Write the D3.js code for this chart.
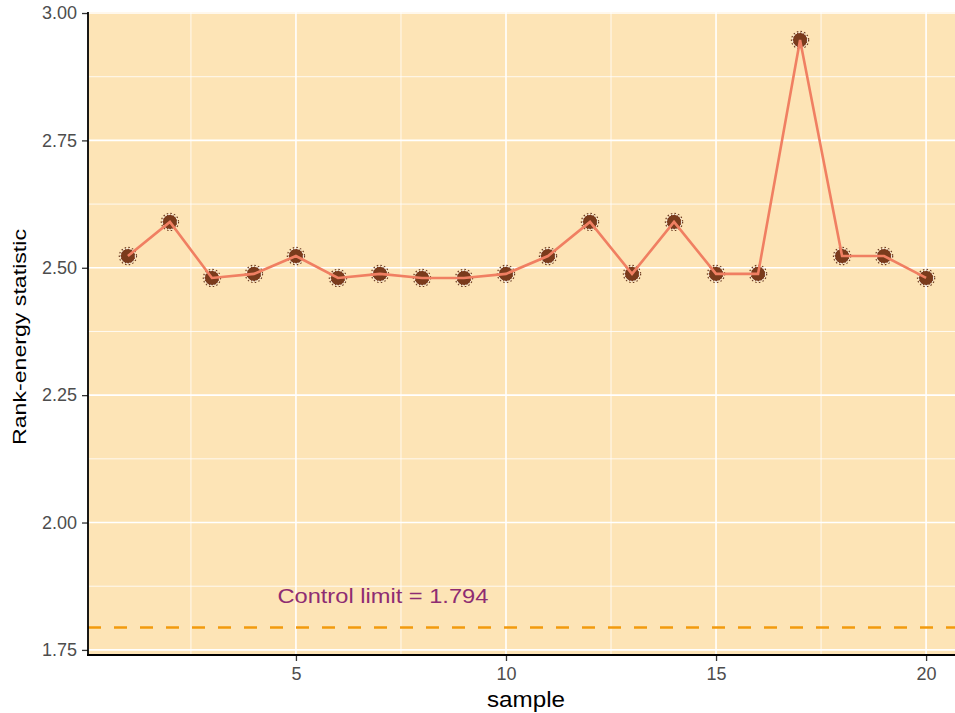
<!DOCTYPE html>
<html>
<head>
<meta charset="utf-8">
<script src="https://cdn.jsdelivr.net/npm/d3@7"></script>
<style>
	body { margin: 0; background: white; }
	svg { display: block; font-family: "Liberation Sans", Arial, sans-serif; }
</style>
</head>
<body>
<div id="chart"></div>
<script>
// values
var samples = d3.range(1, 21);
var statistic = [2.523, 2.590, 2.480, 2.488, 2.523, 2.480, 2.488, 2.480, 2.480, 2.488,
	2.523, 2.590, 2.488, 2.590, 2.488, 2.488, 2.947, 2.523, 2.523, 2.480];
var controlLimit = 1.794;
var yTicks = [1.75, 2.00, 2.25, 2.50, 2.75, 3.00];
var yMinor = [1.875, 2.125, 2.375, 2.625, 2.875];
var xTicks = [5, 10, 15, 20];
var xMinor = [2.5, 7.5, 12.5, 17.5];

(function() {

	var width = 955, height = 713;
	var panelLeft = 88, panelTop = 12, panelBottom = 655;

	var svg = d3.select('#chart').append('svg')
		.attr('width', width)
		.attr('height', height);

	var x = d3.scaleLinear().domain([0.05, 20.95]).range([panelLeft, 966]);
	var y = d3.scaleLinear().domain([1.74, 3.002]).range([panelBottom, panelTop]);

	// panel
	svg.append('rect')
		.attr('x', panelLeft)
		.attr('y', panelTop)
		.attr('width', width - panelLeft)
		.attr('height', panelBottom - panelTop)
		.attr('fill', '#FDE4B6');

	var grid = svg.append('g');

	grid.selectAll('.ymin').data(yMinor).enter().append('line')
		.attr('x1', panelLeft).attr('x2', width)
		.attr('y1', function(d) {return y(d)}).attr('y2', function(d) {return y(d)})
		.attr('stroke', 'white').attr('stroke-width', 0.8)

	grid.selectAll('.xmin').data(xMinor).enter().append('line')
		.attr('y1', panelTop).attr('y2', panelBottom)
		.attr('x1', function(d) {return x(d)}).attr('x2', function(d) {return x(d)})
		.attr('stroke', 'white').attr('stroke-width', 0.8)

	grid.selectAll('.ymaj').data(yTicks).enter().append('line')
		.attr('x1', panelLeft).attr('x2', width)
		.attr('y1', function(d) {return y(d)}).attr('y2', function(d) {return y(d)})
		.attr('stroke', 'white').attr('stroke-width', 1.6)

	grid.selectAll('.xmaj').data(xTicks).enter().append('line')
		.attr('y1', panelTop).attr('y2', panelBottom)
		.attr('x1', function(d) {return x(d)}).attr('x2', function(d) {return x(d)})
		.attr('stroke', 'white').attr('stroke-width', 1.6)

	// control limit
	svg.append('line')
		.attr('x1', panelLeft).attr('x2', width)
		.attr('y1', y(controlLimit)).attr('y2', y(controlLimit))
		.attr('stroke', '#F29A0E')
		.attr('stroke-width', 2.5)
		.attr('stroke-dasharray', '13,13')

	svg.append('text')
		.attr('x', x(7.07))
		.attr('y', 603)
		.attr('text-anchor', 'middle')
		.attr('font-size', '21px')
		.attr('textLength', 211)
		.attr('lengthAdjust', 'spacingAndGlyphs')
		.attr('fill', '#8E2C72')
		.text('Control limit = ' + controlLimit)

	// points
	var pts = samples.map(function(s, i) {return [s, statistic[i]]});

	svg.selectAll('.ptring').data(pts).enter().append('circle')
		.attr('cx', function(d) {return x(d[0])})
		.attr('cy', function(d) {return y(d[1])})
		.attr('r', 8.6)
		.attr('fill', 'none')
		.attr('stroke', '#6B3A22')
		.attr('stroke-width', 1.2)
		.attr('stroke-dasharray', '1.5,2.2')

	svg.selectAll('.pt').data(pts).enter().append('circle')
		.attr('cx', function(d) {return x(d[0])})
		.attr('cy', function(d) {return y(d[1])})
		.attr('r', 7.4)
		.attr('fill', '#7A3B1C')
		.attr('stroke', 'white')
		.attr('stroke-width', 1)
		.attr('stroke-dasharray', '1.5,1.5')

	// line over points
	svg.append('path')
		.datum(pts)
		.attr('fill', 'none')
		.attr('stroke', '#F07F62')
		.attr('stroke-width', 2.6)
		.attr('d', d3.line().x(function(d) {return x(d[0])}).y(function(d) {return y(d[1])}))

	// axes
	var yAxis = svg.append('g')
		.attr('transform', 'translate(' + panelLeft + ',0)')
		.call(d3.axisLeft(y).tickValues(yTicks).tickFormat(d3.format('.2f')).tickSize(6).tickPadding(5))
	yAxis.select('.domain').remove();

	var xAxis = svg.append('g')
		.attr('transform', 'translate(0,' + panelBottom + ')')
		.call(d3.axisBottom(x).tickValues(xTicks).tickSize(6).tickPadding(6))
	xAxis.select('.domain').remove();

	svg.selectAll('.tick line').attr('stroke', '#333').attr('stroke-width', 1.3)
	svg.selectAll('.tick text').attr('fill', '#4D4D4D').style('font-size', '18px')
		.style('font-family', '"Liberation Sans", Arial, sans-serif')

	svg.append('line')
		.attr('x1', panelLeft).attr('x2', panelLeft)
		.attr('y1', panelTop).attr('y2', panelBottom + 1)
		.attr('stroke', 'black').attr('stroke-width', 1.8)

	svg.append('line')
		.attr('x1', panelLeft - 1).attr('x2', width)
		.attr('y1', panelBottom).attr('y2', panelBottom)
		.attr('stroke', 'black').attr('stroke-width', 1.8)

	// titles
	svg.append('text')
		.attr('x', 526)
		.attr('y', 707)
		.attr('text-anchor', 'middle')
		.attr('font-size', '22px')
		.attr('textLength', 78)
		.attr('lengthAdjust', 'spacingAndGlyphs')
		.attr('fill', 'black')
		.text('sample')

	svg.append('text')
		.attr('transform', 'translate(26,337) rotate(-90)')
		.attr('text-anchor', 'middle')
		.attr('font-size', '19px')
		.attr('textLength', 216)
		.attr('lengthAdjust', 'spacingAndGlyphs')
		.attr('fill', 'black')
		.text('Rank-energy statistic')

})();
</script>
</body>
</html>
